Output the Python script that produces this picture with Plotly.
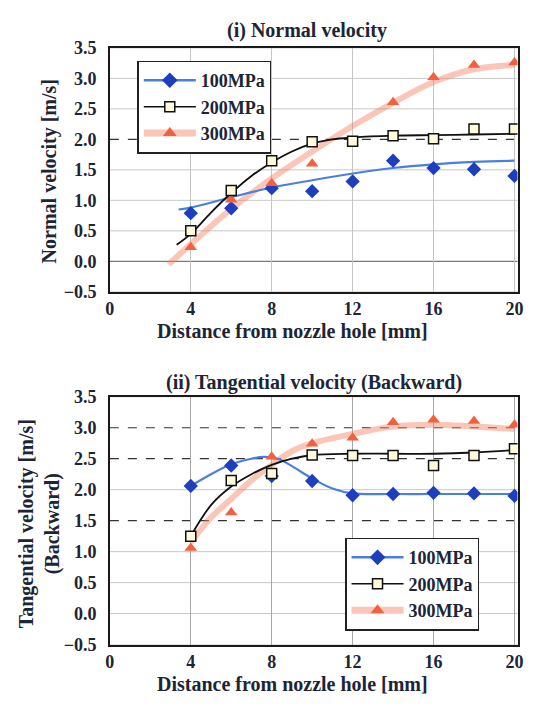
import plotly.graph_objects as go

# ---------------- data ----------------
distance = [4, 6, 8, 10, 12, 14, 16, 18, 20]
series_names = ["100MPa", "200MPa", "300MPa"]

# (i) Normal velocity – measured points
normal_100 = [0.79, 0.87, 1.20, 1.15, 1.31, 1.65, 1.53, 1.51, 1.40]
normal_200 = [0.50, 1.16, 1.65, 1.96, 1.97, 2.06, 2.01, 2.17, 2.17]
normal_300 = [0.23, 1.01, 1.28, 1.60, 1.94, 2.61, 3.02, 3.22, 3.26]

# (i) fitted trend curves
normal_fit_100_x = [3.4, 4, 6, 8, 10, 12, 14, 16, 18, 20]
normal_fit_100_y = [0.85, 0.88, 1.05, 1.21, 1.33, 1.44, 1.53, 1.59, 1.63, 1.65]
normal_fit_200_x = [3.3, 4, 5, 6, 7, 8, 9, 10, 11, 12, 14, 16, 18, 20]
normal_fit_200_y = [0.27, 0.45, 0.80, 1.12, 1.40, 1.62, 1.80, 1.93, 2.00, 2.03, 2.06, 2.07, 2.08, 2.09]
normal_fit_300_x = [2.9, 4, 6, 8, 10, 12, 14, 16, 18, 20]
normal_fit_300_y = [-0.05, 0.28, 0.86, 1.36, 1.80, 2.22, 2.60, 2.94, 3.15, 3.22]

# (ii) Tangential velocity (Backward) – measured points
tang_100 = [2.06, 2.39, 2.22, 2.14, 1.91, 1.93, 1.95, 1.94, 1.90]
tang_200 = [1.25, 2.15, 2.26, 2.56, 2.55, 2.55, 2.39, 2.55, 2.66]
tang_300 = [1.06, 1.63, 2.53, 2.74, 2.84, 3.09, 3.13, 3.11, 3.05]

# (ii) fitted trend curves
tang_fit_100_x = [4, 5, 6, 7, 7.6, 8.3, 9, 10, 11, 12, 14, 16, 18, 20]
tang_fit_100_y = [2.06, 2.25, 2.41, 2.50, 2.53, 2.50, 2.38, 2.18, 2.02, 1.94, 1.93, 1.93, 1.93, 1.93]
tang_fit_200_x = [4, 5, 6, 7, 8, 9, 10, 12, 14, 16, 18, 20]
tang_fit_200_y = [1.25, 1.75, 2.05, 2.25, 2.40, 2.50, 2.56, 2.58, 2.58, 2.58, 2.60, 2.64]
tang_fit_300_x = [4, 5, 6, 7, 8, 9, 10, 12, 14, 16, 18, 20]
tang_fit_300_y = [1.15, 1.55, 1.85, 2.15, 2.40, 2.62, 2.75, 2.90, 3.02, 3.05, 3.02, 2.98]

x_ticks = [0, 4, 8, 12, 16, 20]
y_ticks = [-0.5, 0.0, 0.5, 1.0, 1.5, 2.0, 2.5, 3.0, 3.5]
# horizontal grid levels drawn dashed / darker in each panel
normal_dashed_levels = [2.0]
normal_dark_levels = [0.0]
tang_dashed_levels = [1.5, 2.5, 3.0]
tang_dark_levels = []

# ---------------- styles ----------------
FONT = "Liberation Serif, Times New Roman, serif"
TXT = "#1c2535"
BLUE_M = "#1d3fbf"
BLUE_L = "#4a7fe0"
BLACK = "#111111"
SQ_FILL = "#fffbdc"
RED_M = "#f2603e"
RED_L = "rgba(246,128,96,0.45)"

fig = go.Figure()

def add_panel(xa, ya, legend, fits, points):
    (f1x, f1y), (f2x, f2y), (f3x, f3y) = fits
    fig.add_trace(go.Scatter(x=f3x, y=f3y, mode="lines", line=dict(color=RED_L, width=6, shape="spline"),
                             xaxis=xa, yaxis=ya, showlegend=False, hoverinfo="skip"))
    fig.add_trace(go.Scatter(x=f1x, y=f1y, mode="lines", line=dict(color=BLUE_L, width=2.2, shape="spline"),
                             xaxis=xa, yaxis=ya, showlegend=False, hoverinfo="skip"))
    fig.add_trace(go.Scatter(x=f2x, y=f2y, mode="lines", line=dict(color=BLACK, width=1.8, shape="spline"),
                             xaxis=xa, yaxis=ya, showlegend=False, hoverinfo="skip"))
    p1, p2, p3 = points
    fig.add_trace(go.Scatter(x=distance, y=p1, mode="markers",
                             marker=dict(symbol="diamond", size=11, color=BLUE_M),
                             xaxis=xa, yaxis=ya, showlegend=False))
    fig.add_trace(go.Scatter(x=distance, y=p3, mode="markers",
                             marker=dict(symbol="triangle-up", size=11, color=RED_M),
                             xaxis=xa, yaxis=ya, showlegend=False))
    fig.add_trace(go.Scatter(x=distance, y=p2, mode="markers",
                             marker=dict(symbol="square", size=10, color=SQ_FILL, line=dict(color=BLACK, width=1.5)),
                             xaxis=xa, yaxis=ya, showlegend=False))
    styles = [
        (dict(color=BLUE_L, width=2.5), dict(symbol="diamond", size=12, color=BLUE_M)),
        (dict(color=BLACK, width=1.5), dict(symbol="square", size=10, color=SQ_FILL, line=dict(color=BLACK, width=1.5))),
        (dict(color=RED_L, width=7), dict(symbol="triangle-up", size=12, color=RED_M)),
    ]
    for name, (ln, mk) in zip(series_names, styles):
        fig.add_trace(go.Scatter(x=[None], y=[None], mode="lines+markers", name=name, line=ln, marker=mk,
                                 xaxis=xa, yaxis=ya, legend=legend, showlegend=True))

add_panel("x", "y", "legend",
          [(normal_fit_100_x, normal_fit_100_y), (normal_fit_200_x, normal_fit_200_y), (normal_fit_300_x, normal_fit_300_y)],
          [normal_100, normal_200, normal_300])
add_panel("x2", "y2", "legend2",
          [(tang_fit_100_x, tang_fit_100_y), (tang_fit_200_x, tang_fit_200_y), (tang_fit_300_x, tang_fit_300_y)],
          [tang_100, tang_200, tang_300])

W, H = 548, 708
def px_x(p):
    return p / W
def px_y(p):
    return 1 - p / H

tick_font = dict(family=FONT, size=18, color=TXT, weight="bold")
axis_common = dict(showline=True, linecolor="#1a1a1a", linewidth=1.6, mirror=True,
                   tickfont=tick_font, zeroline=False)

xa_common = dict(axis_common, range=[0, 20.15], tickmode="array", tickvals=x_ticks,
                 ticks="", showgrid=True, gridcolor="#c4c4c4", gridwidth=1)
ya_common = dict(axis_common, range=[-0.5, 3.5], tickmode="array", tickvals=y_ticks, tickformat=".1f",
                 ticks="outside", ticklen=8, tickcolor="rgba(0,0,0,0)", showgrid=False)

leg_common = dict(xanchor="left", yanchor="top", bgcolor="white", bordercolor="#222", borderwidth=1.5,
                  font=dict(family=FONT, size=18, color=TXT, weight="bold"), tracegroupgap=0, itemwidth=52)

fig.update_layout(
    width=W, height=H,
    margin=dict(l=0, r=0, t=0, b=0),
    paper_bgcolor="white", plot_bgcolor="white",
    font=dict(family=FONT, color=TXT),
    xaxis=dict(xa_common, domain=[px_x(107), px_x(523)], anchor="y"),
    yaxis=dict(ya_common, domain=[px_y(290), px_y(39)], anchor="x"),
    xaxis2=dict(xa_common, domain=[px_x(107), px_x(523)], anchor="y2", gridcolor="#a8a8a8"),
    yaxis2=dict(ya_common, domain=[px_y(653), px_y(398)], anchor="x2"),
    legend=dict(leg_common, x=px_x(135), y=px_y(52)),
    legend2=dict(leg_common, x=px_x(347), y=px_y(543)),
    showlegend=True,
)

# horizontal grid lines (drawn as shapes beneath the data so some can be dashed)
def panel_grid(xa, ya, dashed, dark):
    for yv in y_ticks:
        if yv in dashed:
            line = dict(color="#333333", width=1.2, dash="dash")
        elif yv in dark:
            line = dict(color="#7a7a7a", width=1.2)
        else:
            line = dict(color="#c8c8c8", width=1)
        fig.add_shape(type="line", xref=f"{xa} domain", yref=ya, x0=0, x1=1, y0=yv, y1=yv,
                      line=line, layer="below")

panel_grid("x", "y", normal_dashed_levels, normal_dark_levels)
panel_grid("x2", "y2", tang_dashed_levels, tang_dark_levels)

ann_font = dict(family=FONT, size=20, color=TXT, weight="bold")
annotations = [
    dict(text="(i) Normal velocity", x=px_x(308), y=px_y(21)),
    dict(text="Distance from nozzle hole [mm]", x=px_x(293), y=px_y(330)),
    dict(text="(ii) Tangential velocity (Backward)", x=px_x(315), y=px_y(383)),
    dict(text="Distance from nozzle hole [mm]", x=px_x(293), y=px_y(694)),
]
for a in annotations:
    fig.add_annotation(xref="paper", yref="paper", showarrow=False, font=ann_font,
                       xanchor="center", yanchor="middle", **a)
fig.add_annotation(text="Normal velocity [m/s]", xref="paper", yref="paper",
                   x=px_x(45), y=px_y(166), textangle=-90, showarrow=False, font=ann_font,
                   xanchor="center", yanchor="middle")
fig.add_annotation(text="Tangential velocity [m/s]<br>(Backward)", xref="paper", yref="paper",
                   x=px_x(35), y=px_y(529), textangle=-90, showarrow=False, font=ann_font,
                   xanchor="center", yanchor="middle")

fig.write_html("out.html", config={"displayModeBar": False},
               post_script="document.body.style.margin='0';")
